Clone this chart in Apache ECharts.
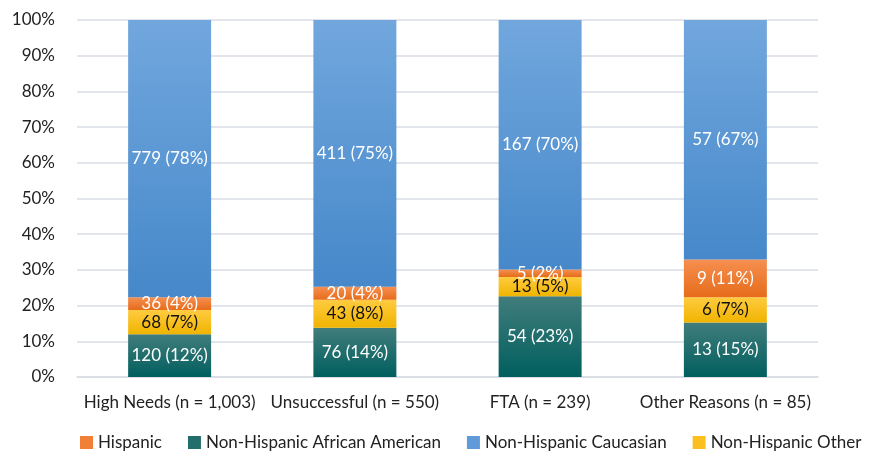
<!DOCTYPE html>
<html>
<head>
<meta charset="utf-8">
<script src="https://cdn.jsdelivr.net/npm/echarts@6/dist/echarts.min.js"></script>
<style>
  html, body { margin: 0; padding: 0; background: #fff; }
  #chart { width: 872px; height: 452px; }
</style>
</head>
<body>
<div id="chart"></div>
<script>
// 类别和各组人数
var categories = ["High Needs (n = 1,003)", "Unsuccessful (n = 550)", "FTA (n = 239)", "Other Reasons (n = 85)"];
var totals = [1003, 550, 239, 85];
var africanAmerican = [120, 76, 54, 13];
var other = [68, 43, 13, 6];
var hispanic = [36, 20, 5, 9];
var caucasian = [779, 411, 167, 57];
// 标签上的百分比（图中读出）
var pctAfricanAmerican = [12, 14, 23, 15];
var pctOther = [7, 8, 5, 7];
var pctHispanic = [4, 4, 2, 11];
var pctCaucasian = [78, 75, 70, 67];
var yTicks = [0, 10, 20, 30, 40, 50, 60, 70, 80, 90, 100];

(function () {
    var myChart = echarts.init(document.getElementById("chart"));
    var font = "Lato, 'Noto Sans', sans-serif";

    function grad(top, bottom) {
        return new echarts.graphic.LinearGradient(0, 0, 0, 1, [
            { offset: 0, color: top },
            { offset: 1, color: bottom }
        ]);
    }

    // 换算成百分比堆叠
    function share(counts) {
        return counts.map(function (v, i) { return v / totals[i] * 100; });
    }

    function makeSeries(name, counts, pcts, top, bottom, legendColor, textColor) {
        return {
            name: name,
            type: "bar",
            stack: "total",
            barWidth: "44.8%",
            data: share(counts),
            itemStyle: { color: grad(top, bottom) },
            label: {
                show: true,
                position: "inside",
                color: textColor,
                fontFamily: font,
                fontSize: 17,
                formatter: function (p) {
                    return counts[p.dataIndex] + " (" + pcts[p.dataIndex] + "%)";
                }
            },
            legendColor: legendColor
        };
    }

    var series = [
        makeSeries("Non-Hispanic African American", africanAmerican, pctAfricanAmerican, "#417d7c", "#005f5e", "#236e6c", "#ffffff"),
        makeSeries("Non-Hispanic Other", other, pctOther, "#ffcb40", "#f0b400", "#fbc01f", "#111111"),
        makeSeries("Hispanic", hispanic, pctHispanic, "#f68f50", "#e66c1a", "#f17f35", "#ffffff"),
        makeSeries("Non-Hispanic Caucasian", caucasian, pctCaucasian, "#71a7dd", "#4688ca", "#5e9bd8", "#ffffff")
    ];

    var legendOrder = ["Hispanic", "Non-Hispanic African American", "Non-Hispanic Caucasian", "Non-Hispanic Other"];

    var option = {
        animation: false,
        grid: { left: 77, right: 54, top: 20, bottom: 75 },
        legend: {
            data: legendOrder.map(function (n) {
                var s = series.filter(function (x) { return x.name === n; })[0];
                return { name: n, itemStyle: { color: s.legendColor } };
            }),
            left: 80,
            width: 792,
            bottom: 1,
            padding: 0,
            icon: "rect",
            itemWidth: 13,
            itemHeight: 13,
            itemGap: 26,
            textStyle: { fontFamily: font, fontSize: 17, color: "#222" }
        },
        xAxis: {
            type: "category",
            data: categories,
            axisTick: { show: false },
            axisLine: { lineStyle: { color: "#d9dde4", width: 1.5 } },
            axisLabel: { interval: 0, color: "#222", fontFamily: font, fontSize: 17, margin: 17 }
        },
        yAxis: {
            type: "value",
            min: yTicks[0],
            max: yTicks[yTicks.length - 1],
            interval: 10,
            axisLine: { show: false },
            axisTick: { show: false },
            splitLine: { lineStyle: { color: "#d9dde4", width: 1.5 } },
            axisLabel: { color: "#222", fontFamily: font, fontSize: 17, margin: 22, formatter: "{value}%" }
        },
        series: series
    };
    myChart.setOption(option);
})();
</script>
</body>
</html>
